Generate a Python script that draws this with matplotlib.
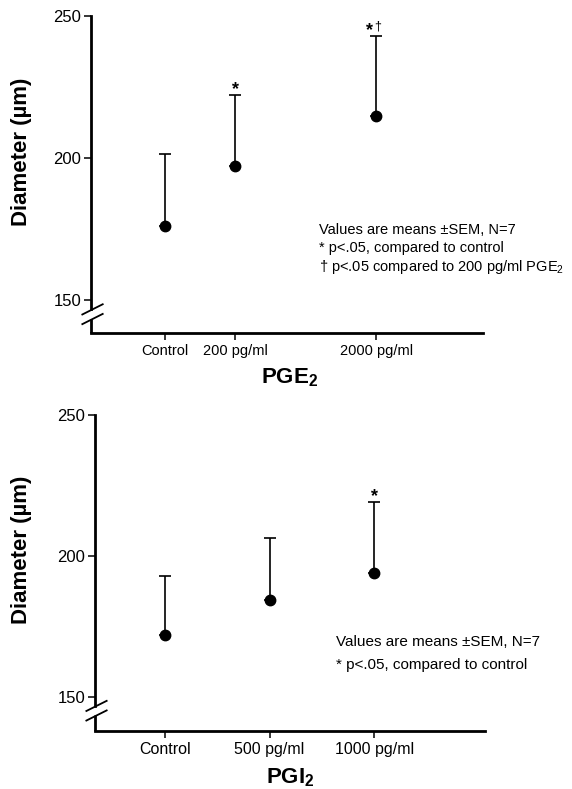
import matplotlib
matplotlib.use("Agg")
import matplotlib.pyplot as plt
import matplotlib.transforms as mtransforms

plt.rcParams['font.family'] = ['Liberation Sans', 'DejaVu Sans']
plt.rcParams['mathtext.fontset'] = 'custom'
plt.rcParams['mathtext.rm'] = 'Liberation Sans'
plt.rcParams['mathtext.bf'] = 'Liberation Sans:bold'

# ---- data ----
pge_labels = ["Control", "200 pg/ml", "2000 pg/ml"]
pge_means = [176.1, 197.3, 214.6]
pge_sem = [25.3, 24.9, 28.3]
pge_marks = ["", "*", "*†"]

pgi_labels = ["Control", "500 pg/ml", "1000 pg/ml"]
pgi_means = [171.8, 184.4, 193.8]
pgi_sem = [20.9, 22.1, 25.4]
pgi_marks = ["", "", "*"]

yticks = [150, 200, 250]

# layout (category positions on the axis)
pge_x = [0, 1, 3]
pgi_x = [0, 1, 2]

fig = plt.figure(figsize=(5.72, 7.89), dpi=100)

def make_panel(rect, xs, labels, means, sems, marks, ylim, xlim, notes, note_xy, note_dy,
               note_fs, xlabel, xlabel_xy, ylabel_xy, xtick_fs):
    ax = fig.add_axes(rect)
    ax.errorbar(xs, means, yerr=[[0]*len(sems), sems], fmt='o', color='black',
                markersize=7.5, elinewidth=1.2, capsize=4, capthick=1.2, ecolor='black')
    ax.set_ylim(*ylim)
    ax.set_xlim(*xlim)
    ax.set_yticks(yticks)
    ax.set_yticklabels([str(t) for t in yticks], fontsize=12)
    ax.set_xticks(xs)
    ax.set_xticklabels(labels, fontsize=xtick_fs)
    ax.tick_params(axis='both', direction='out', length=5, width=1.1, color='black', pad=2)
    ax.tick_params(axis='x', pad=3)
    for s in ['top', 'right']:
        ax.spines[s].set_visible(False)
    ax.spines['bottom'].set_linewidth(2.0)
    ax.spines['left'].set_linewidth(2.0)
    # axis break
    b_hi, b_lo = 146.7, 143.3
    ax.spines['left'].set_bounds(b_hi, ylim[1])
    tr = mtransforms.blended_transform_factory(ax.transAxes, ax.transData)
    ax.plot([0, 0], [ylim[0], b_lo], transform=tr, color='black', lw=2.0,
            clip_on=False, solid_capstyle='butt')
    for c in (b_hi, b_lo):
        ax.plot([-0.022, 0.030], [c - 1.8, c + 1.8], transform=tr, color='black',
                lw=1.3, clip_on=False)
    # significance marks
    for x, m, s, mk in zip(xs, means, sems, marks):
        n = len(mk)
        for j, ch in enumerate(mk):
            dx = (j - (n - 1) / 2) * 6.5 - (2 if n > 1 else 0)
            fs = 13 if ch == "*" else 9
            dy = 4 if ch == "*" else 6.5
            ax.annotate(ch, xy=(x, m + s), xytext=(dx, dy), textcoords='offset points',
                        ha='center', va='center', fontsize=fs,
                        fontweight='bold' if ch == "*" else 'normal')
    # notes
    for i, n in enumerate(notes):
        ax.text(note_xy[0], note_xy[1] - i * note_dy, n, transform=ax.transAxes,
                ha='left', va='center', fontsize=note_fs)
    fig.text(xlabel_xy[0], xlabel_xy[1], xlabel, ha='center', va='center',
             fontsize=16, fontweight='bold')
    fig.text(ylabel_xy[0], ylabel_xy[1], "Diameter (µm)", ha='center', va='center',
             rotation=90, fontsize=16, fontweight='bold')
    return ax

make_panel([0.159, 0.578, 0.685, 0.402], pge_x, pge_labels, pge_means, pge_sem, pge_marks,
           (138.4, 250), (-1.05, 4.51),
           ["Values are means ±SEM, N=7", "* p<.05, compared to control",
            "† p<.05 compared to 200 pg/ml PGE$_2$"],
           (0.582, 0.325), 0.058, 10.5,
           r"PGE$_\mathbf{2}$", (290 / 572, 1 - 378 / 789), (22 / 572, 1 - 152 / 789), 10.5)

make_panel([0.166, 0.0739, 0.682, 0.400], pgi_x, pgi_labels, pgi_means, pgi_sem, pgi_marks,
           (137.9, 250), (-0.67, 3.06),
           ["Values are means ±SEM, N=7", "* p<.05, compared to control"],
           (0.618, 0.281), 0.073, 11,
           r"PGI$_\mathbf{2}$", (290 / 572, 1 - 778 / 789), (22 / 572, 1 - 550 / 789), 11.5)

fig.savefig("out.png", dpi=100)
